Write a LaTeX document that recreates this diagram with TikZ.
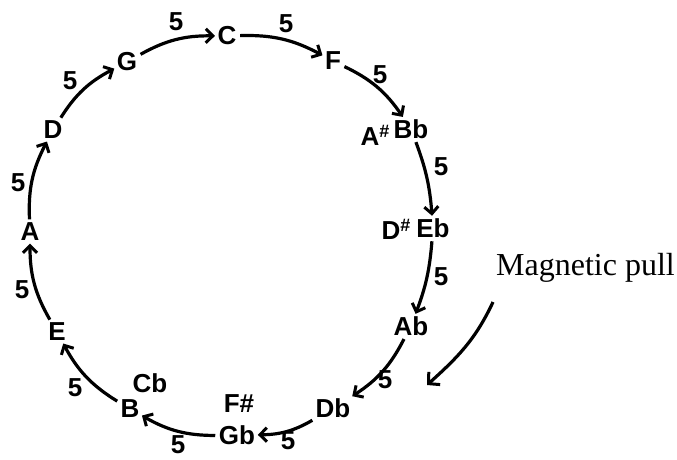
\documentclass[tikz,border=0pt]{standalone}
\usepackage{fontspec}
\setmainfont{Liberation Serif}
\newfontfamily\handfont{Liberation Sans}
\usetikzlibrary{arrows.meta}
\begin{document}
\begin{tikzpicture}[x=1pt,y=1pt,
  note/.style={font=\handfont\bfseries\fontsize{26}{28}\selectfont, inner sep=1.5pt},
  five/.style={font=\handfont\bfseries\fontsize{26}{28}\selectfont, inner sep=0pt},
  arr/.style={line width=3.2pt, -{Straight Barb[length=7pt,width=14pt,line width=3pt]}},
  arc/.style={arr, bend left=15, shorten <=2pt, shorten >=1pt}
]
\useasboundingbox (0,0) rectangle (677,-459);
% notes
\node[note] (C)  at (227,-36) {C};
\node[note] (F)  at (333,-61) {F};
\node[note] (Bb) at (411,-129) {Bb};
\node[note, inner sep=0pt] (Ash) at (375,-135) {A\raisebox{8pt}{\fontsize{18}{18}\selectfont\#}};
\node[note] (Eb) at (433,-228) {Eb};
\node[note, inner sep=0pt] (Dsh) at (396,-229) {D\raisebox{8pt}{\fontsize{18}{18}\selectfont\#}};
\node[note] (Ab) at (411,-326) {Ab};
\node[note] (Db) at (333,-408) {Db};
\node[note] (Gb) at (237,-435) {Gb};
\node[note, inner sep=0pt] (Fsh) at (239,-404) {F\#};
\node[note] (B)  at (130,-409) {B};
\node[note, inner sep=0pt] (Cb) at (150,-383) {Cb};
\node[note] (E)  at (57,-332) {E};
\node[note] (A)  at (30,-232) {A};
\node[note] (D)  at (53,-130) {D};
\node[note] (G)  at (127,-62) {G};
% intervals
\node[five] (f1)  at (176,-22) {5};
\node[five] (f2)  at (286,-24) {5};
\node[five] (f3)  at (380,-75) {5};
\node[five] (f4)  at (441,-167) {5};
\node[five] (f5)  at (441,-277) {5};
\node[five] (f6)  at (385,-380) {5};
\node[five] (f7)  at (288,-441) {5};
\node[five] (f8)  at (178,-445) {5};
\node[five] (f9)  at (75,-388) {5};
\node[five] (f10) at (22,-290) {5};
\node[five] (f11) at (18,-183) {5};
\node[five] (f12) at (70,-81) {5};
% arcs (clockwise)
\draw[arc] (C) to (F);
\draw[arc] (F) to (Bb);
\draw[arc, bend left=8] (Bb) to (Eb);
\draw[arc, bend left=8] (Eb) to (Ab);
\draw[arc] (Ab) to (Db);
\draw[arc] (Db) to (Gb);
\draw[arc] (Gb) to (B);
\draw[arc] (B) to (E);
\draw[arc] (E) to (A);
\draw[arc] (A) to (D);
\draw[arc] (D) to (G);
\draw[arc] (G) to (C);
% magnetic pull
\node[anchor=base west, inner sep=0pt, font=\fontsize{32}{34}\selectfont] (mp) at (496,-275) {Magnetic pull};
\coordinate (mps) at (493,-302);
\coordinate (mpe) at (427,-385);
\draw[arr, -{Straight Barb[length=8pt,width=17pt,line width=3pt]}] (mps) to[out=245, in=42] (mpe);
\end{tikzpicture}
\end{document}
